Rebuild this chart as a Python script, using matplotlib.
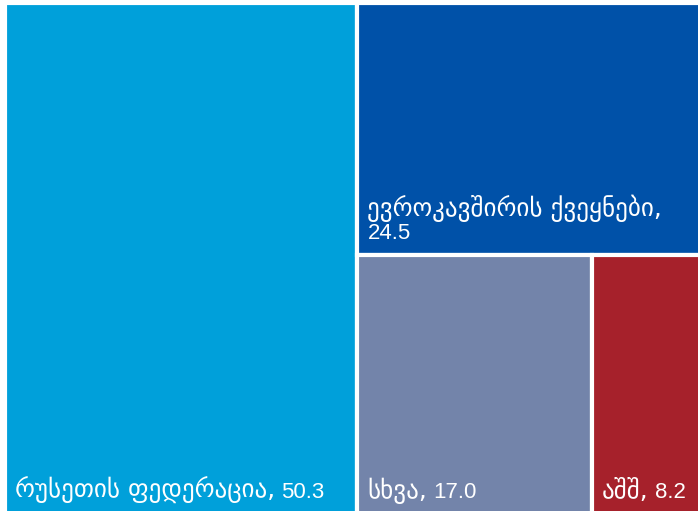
import matplotlib.pyplot as plt
from matplotlib.patches import Rectangle
from matplotlib.transforms import offset_copy

labels = ["რუსეთის ფედერაცია", "ევროკავშირის ქვეყნები", "სხვა", "აშშ"]
values = [50.3, 24.5, 17.0, 8.2]
colors = ["#00a0da", "#0051a8", "#7384aa", "#a6212b"]
two_line = [False, True, False, False]


def layout(vals):
    # russia takes a full-height strip, EU the top of what is left,
    # the rest split side by side at the bottom
    total = sum(vals)
    w0 = vals[0] / total
    rest = total - vals[0]
    h1 = vals[1] / rest
    bottom = vals[2] + vals[3]
    w2 = (1 - w0) * vals[2] / bottom
    return [
        (0, 0, w0, 1),
        (w0, 1 - h1, 1 - w0, h1),
        (w0, 0, w2, 1 - h1),
        (w0 + w2, 0, 1 - w0 - w2, 1 - h1),
    ]


fig = plt.figure(figsize=(6.98, 5.11), dpi=100)
ax = fig.add_axes([5 / 698, -3 / 511, 700 / 698, 511 / 511])
ax.set_xlim(0, 1)
ax.set_ylim(0, 1)
ax.axis("off")

geo_font = dict(family="DejaVu Sans", size=18, color="white")
num_font = dict(family="Liberation Sans", size=16, color="white")

rects = layout(values)
geo_texts = []
for (x, y, w, h), lab, val, col, two in zip(rects, labels, values, colors, two_line):
    ax.add_patch(Rectangle((x, y), w, h, facecolor=col, edgecolor="white", linewidth=3))
    if two:
        tr_num = offset_copy(ax.transData, fig=fig, x=11, y=16, units="dots")
        ax.text(x, y, f"{val:.1f}", transform=tr_num, ha="left", va="baseline", **num_font)
        tr_geo = offset_copy(ax.transData, fig=fig, x=10, y=39, units="dots")
        ax.text(x, y, lab + ",", transform=tr_geo, ha="left", va="baseline", **geo_font)
    else:
        tr_geo = offset_copy(ax.transData, fig=fig, x=10, y=16, units="dots")
        t = ax.text(x, y, lab + ",", transform=tr_geo, ha="left", va="baseline", **geo_font)
        geo_texts.append((t, x, y, val))

# put the numbers right after the georgian part
fig.canvas.draw()
renderer = fig.canvas.get_renderer()
for t, x, y, val in geo_texts:
    bb = t.get_window_extent(renderer)
    x0 = ax.transData.transform((x, y))[0]
    tr_num = offset_copy(ax.transData, fig=fig, x=bb.x1 - x0 + 6, y=16, units="dots")
    ax.text(x, y, f"{val:.1f}", transform=tr_num, ha="left", va="baseline", **num_font)

fig.savefig("out.png", dpi=100)
